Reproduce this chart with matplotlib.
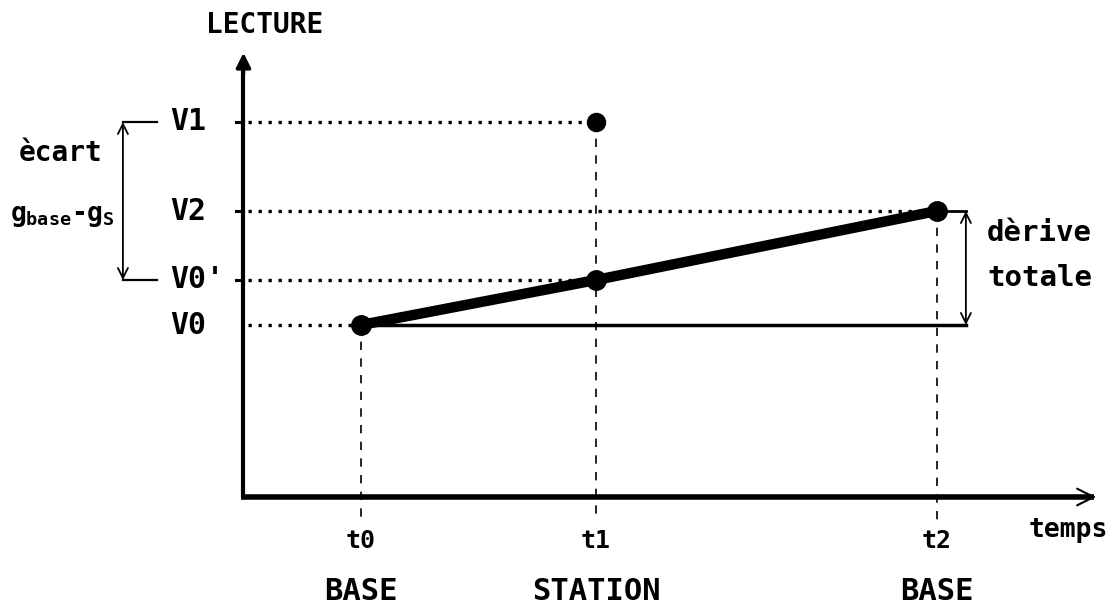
import matplotlib
matplotlib.use("Agg")
import matplotlib.pyplot as plt

# schematic values
times = [1.0, 2.0, 3.45]            # t0, t1, t2
time_labels = ["t0", "t1", "t2"]
site_labels = ["BASE", "STATION", "BASE"]
base_readings = [1.72, 2.86]         # V0 at t0, V2 at t2 (base station)
station_reading = 3.75               # V1 at t1
corrected_reading = 2.17             # V0' at t1, on the drift line
level_names = ["V1", "V2", "V0'", "V0"]

plt.rcParams["font.family"] = ["DejaVu Sans Mono"]
plt.rcParams["font.weight"] = "bold"
plt.rcParams["mathtext.fontset"] = "custom"
plt.rcParams["mathtext.rm"] = "DejaVu Sans Mono:bold"
plt.rcParams["mathtext.it"] = "DejaVu Sans Mono:bold"

fig = plt.figure(figsize=(11.17, 6.06), dpi=100)
ax = fig.add_axes([0, 0, 1, 1])
ax.set_xlim(-0.536, 4.217)
ax.set_ylim(-1.09, 4.97)
ax.axis("off")

t0, t1, t2 = times
v0, v2 = base_readings
v1 = station_reading
v0p = corrected_reading
levels = [v1, v2, v0p, v0]
level_times = [t1, t2, t1, t0]

x_axis = 0.5
y_axis = 0.0
x_end = 4.14
arrow_x = 3.574

# axes
ax.plot([x_axis, x_axis], [y_axis, 4.3], color="k", lw=3, solid_capstyle="butt")
ax.annotate("", xy=(x_axis, 4.47), xytext=(x_axis, 4.2),
            arrowprops=dict(arrowstyle="-|>", color="k", lw=2.5, mutation_scale=22))
ax.plot([x_axis - 0.01, x_end - 0.02], [y_axis, y_axis], color="k", lw=4, solid_capstyle="butt")
ax.annotate("", xy=(x_end, y_axis), xytext=(x_end - 0.1, y_axis),
            arrowprops=dict(arrowstyle="->", color="k", lw=1.5, mutation_scale=30))

# dotted guides and ticks on the reading axis
for v, t in zip(levels, level_times):
    ax.plot([x_axis + 0.02, t], [v, v], color="k", lw=2.4, linestyle=(0, (1, 2)))
for v in [v1, v2, v0p]:
    ax.plot([x_axis - 0.03, x_axis], [v, v], color="k", lw=2.2)

# dashed verticals down to the time axis
for t, v in zip(times, [v0, v1, v2]):
    ax.plot([t, t], [v, -0.25], color="k", lw=1.2, linestyle=(0, (5, 5)))

# base line at V0 and drift line
ax.plot([t0, arrow_x], [v0, v0], color="k", lw=2.5)
ax.plot([t0, t1, t2], [v0, v0p, v2], color="k", lw=7.5, marker="o", ms=14,
        solid_capstyle="round")
ax.plot([t1], [v1], "o", color="k", ms=13)

# total drift arrow
ax.plot([t2, arrow_x], [v2, v2], color="k", lw=2)
ax.annotate("", xy=(arrow_x, v2), xytext=(arrow_x, v0),
            arrowprops=dict(arrowstyle="<->", color="k", lw=1.3, mutation_scale=18,
                            shrinkA=0, shrinkB=0))
ax.text(3.885, 2.64, "dèrive", fontsize=21, ha="center", va="center")
ax.text(3.89, 2.19, "totale", fontsize=21, ha="center", va="center")

# gap bracket on the left
bx, bx2 = -0.013, 0.132
ax.plot([bx, bx2], [v1, v1], color="k", lw=1.6)
ax.plot([bx, bx2], [v0p, v0p], color="k", lw=1.6)
ax.annotate("", xy=(bx, v1), xytext=(bx, v0p),
            arrowprops=dict(arrowstyle="<->", color="k", lw=1.3, mutation_scale=18,
                            shrinkA=0, shrinkB=0))
ax.text(-0.28, 3.44, "ècart", fontsize=20, ha="center", va="center")
ax.text(-0.272, 2.81, r"$g_{\mathrm{base}}$-$g_S$", fontsize=19, ha="center", va="center")

# level labels
for name, v in zip(level_names, levels):
    ax.text(0.187, v, name, fontsize=21.5, ha="left", va="center")

ax.text(0.59, 4.72, "LECTURE", fontsize=20, ha="center", va="center")
ax.text(4.01, -0.33, "temps", fontsize=19, ha="center", va="center")
for t, tl, sl in zip(times, time_labels, site_labels):
    ax.text(t, -0.44, tl, fontsize=18, ha="center", va="center")
    ax.text(t, -0.95, sl, fontsize=22, ha="center", va="center")

fig.savefig("out.png", dpi=100)
